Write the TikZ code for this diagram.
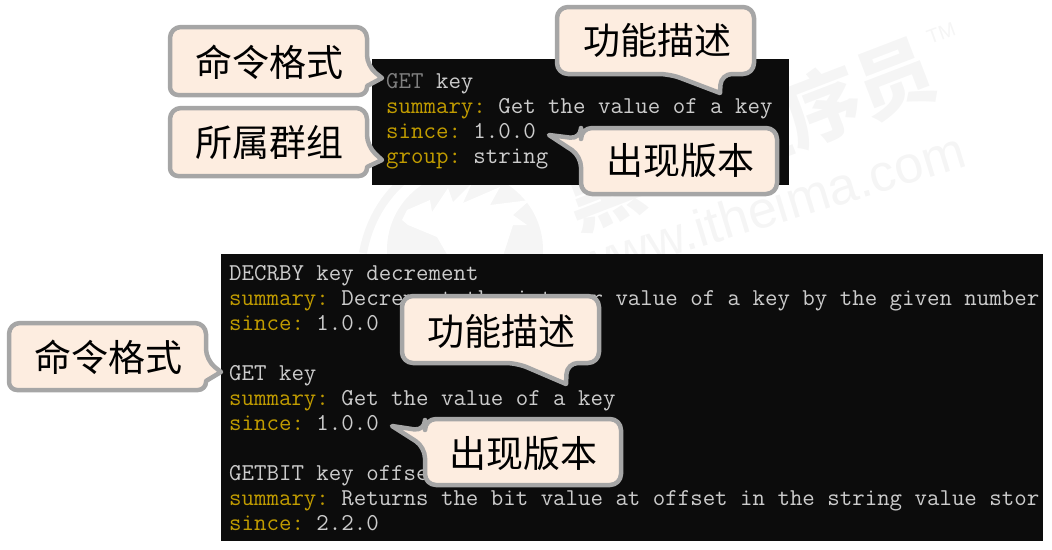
\documentclass[tikz,border=0pt]{standalone}
\usepackage{fontspec}
\usepackage{xcolor}
\newfontfamily\cjk{Noto Sans CJK SC}
\setsansfont{Liberation Sans}
\definecolor{consolebg}{HTML}{0C0C0C}
\definecolor{consoletxt}{HTML}{CCCCCC}
\definecolor{consolekey}{HTML}{C19C00}
\definecolor{notefill}{HTML}{FDEDE0}
\definecolor{noteline}{HTML}{A6A6A6}
\definecolor{wmark}{HTML}{F5F5F5}
\tikzset{
  panel/.style={fill=consolebg,draw=none},
  conline/.style={anchor=base west,inner sep=0pt,text=consoletxt,font=\ttfamily\fontsize{24.2}{25}\selectfont},
  note/.style={fill=notefill,draw=noteline,line width=4.5pt,rounded corners=11pt,line join=round},
  notetext/.style={font=\cjk\fontsize{37}{37}\selectfont,text=black,inner sep=0pt},
  wmtext/.style={text=wmark,inner sep=0pt}
}
\newcommand{\sk}[1]{\textcolor{consolekey}{#1}}
\frenchspacing
\begin{document}
\begin{tikzpicture}[x=1pt,y=-1pt]
	\useasboundingbox (0,0) rectangle (1052,549);
	% watermark
	\fill[wmark] (465,250) circle (78pt);
	\fill[white] (407,210) -- (430,200) -- (432,212) -- (448,188) -- (453,202) -- (472,183) -- (463,203) -- (500,187) -- (490,205) -- (530,200) -- (513,215) -- (527,225) -- (513,225) -- (503,256) -- (448,256) -- (437,237) -- (408,225) -- (402,220) -- cycle;
	\draw[wmark,line width=8pt] (363,253) .. controls (370,215) and (390,190) .. (410,175);
	\node[wmtext,rotate=21,font=\cjk\bfseries\fontsize{78}{78}\selectfont] (wm1) at (749,134) {黑马程序员};
	\node[wmtext,rotate=17,font=\sffamily\fontsize{52}{52}\selectfont] (wm2) at (770,207) {www.itheima.com};
	\node[wmtext,rotate=20,font=\sffamily\fontsize{20}{20}\selectfont] (wm3) at (941,33) {TM};
	% console panels
	\fill[panel] (372,59) rectangle (789,185);
	\fill[panel] (221,254) rectangle (1043,541);
	%
	\node[conline] (get1) at (386,88) {\textcolor{gray}{GET} key};
	\node[conline] (sum1) at (386,113) {\sk{summary:} Get the value of a key};
	\node[conline] (sin1) at (386,138) {\sk{since:} 1.0.0};
	\node[conline] (grp1) at (386,163) {\sk{group:} string};
	%
	\node[conline] (cmd2) at (229,280) {DECRBY key decrement};
	\node[conline] (sum2) at (229,305) {\sk{summary:} Decrement the integer value of a key by the given number};
	\node[conline] (sin2) at (229,330) {\sk{since:} 1.0.0};
	\node[conline] (cmd3) at (229,380) {GET key};
	\node[conline] (sum3) at (229,405) {\sk{summary:} Get the value of a key};
	\node[conline] (sin3) at (229,430) {\sk{since:} 1.0.0};
	\node[conline] (cmd4) at (229,480) {GETBIT key offset};
	\node[conline] (sum4) at (229,505) {\sk{summary:} Returns the bit value at offset in the string value stor};
	\node[conline] (sin4) at (229,530) {\sk{since:} 2.2.0};
	% callouts
	\draw[note] (170,27) -- (367,27) -- (367,66) [sharp corners] -- (382,78) -- (367,86) [rounded corners=8pt] -- (367,95) -- (170,95) [rounded corners=11pt] -- cycle;
	\node[notetext] (fmt1) at (269,62) {命令格式};
	\draw[note] (170,108) -- (367,108) -- (367,146) [sharp corners] -- (382,160) -- (367,167) [rounded corners=8pt] -- (367,176) -- (170,176) [rounded corners=11pt] -- cycle;
	\node[notetext] (grp) at (269,142) {所属群组};
	\draw[note] (557,7) -- (754,7) -- (754,74) -- (721,74) [sharp corners] -- (720,93) [rounded corners=11pt] -- (670,74) -- (557,74) -- cycle;
	\node[notetext] (desc1) at (657,40) {功能描述};
	\draw[note] (581,128) -- (777,128) -- (777,194) -- (581,194) -- (581,156) [sharp corners] -- (549,135) [rounded corners=11pt] -- (581,139) -- cycle;
	\node[notetext] (ver1) at (680,160) {出现版本};
	%
	\draw[note] (9,323) -- (206,323) -- (206,360) [sharp corners] -- (221,372) -- (206,381) [rounded corners=8pt] -- (206,390) -- (9,390) [rounded corners=11pt] -- cycle;
	\node[notetext] (fmt2) at (108,357) {命令格式};
	\draw[note] (402,296) -- (599,296) -- (599,363) -- (567,363) [sharp corners] -- (566,384) [rounded corners=11pt] -- (517,363) -- (402,363) -- cycle;
	\node[notetext] (desc2) at (501,331) {功能描述};
	\draw[note] (425,419) -- (621,419) -- (621,485) -- (425,485) -- (425,447) [sharp corners] -- (392,426) [rounded corners=11pt] -- (425,431) -- cycle;
	\node[notetext] (ver2) at (523,453) {出现版本};
\end{tikzpicture}
\end{document}
